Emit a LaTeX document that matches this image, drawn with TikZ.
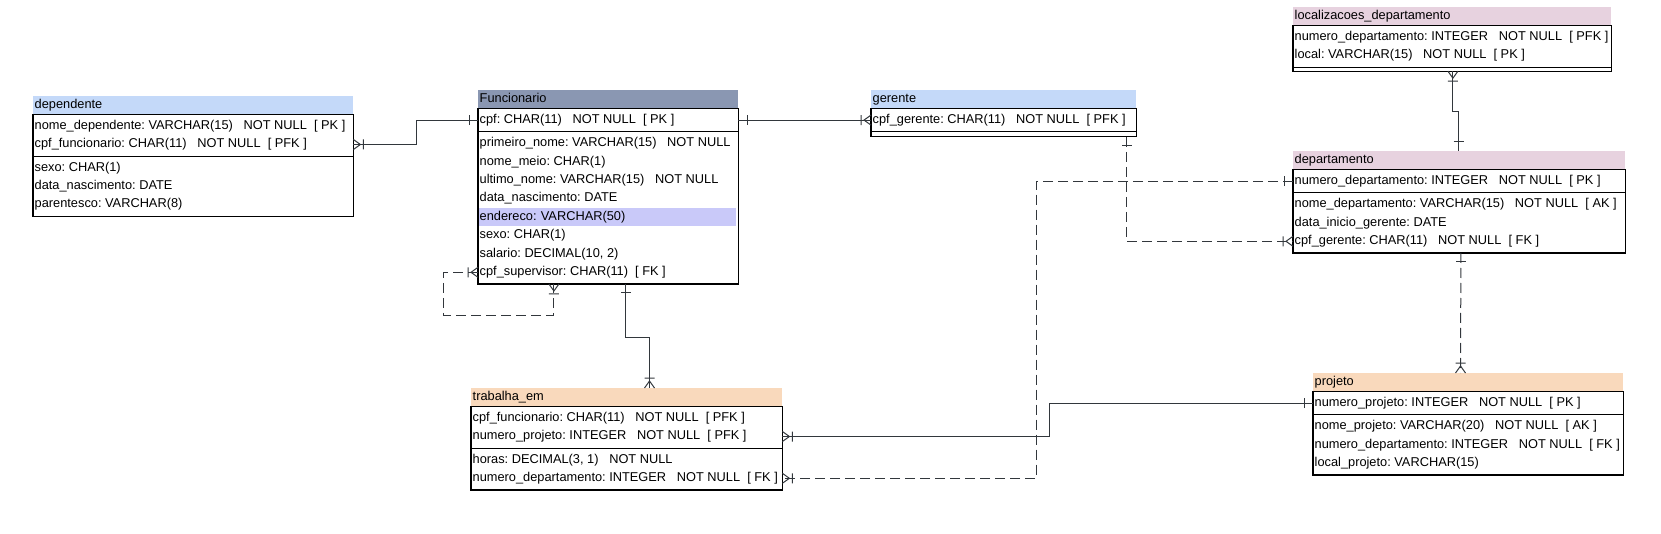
\documentclass[tikz,border=0pt]{standalone}
\usepackage{fontspec}
\setmainfont{Liberation Sans}
\frenchspacing
\definecolor{bluehd}{RGB}{196,217,249}
\definecolor{slatehd}{RGB}{138,151,178}
\definecolor{pinkhd}{RGB}{231,210,223}
\definecolor{peachhd}{RGB}{249,217,188}
\definecolor{hilite}{RGB}{201,201,249}
\definecolor{linkgray}{RGB}{50,55,60}
\tikzset{
  tabhd/.style={fill=#1, anchor=north west, minimum height=18pt, inner xsep=1.5pt, inner ysep=0pt, text height=9.5pt, text depth=3pt, align=left},
  col/.style={anchor=north west, minimum height=18pt, inner xsep=1.5pt, inner ysep=0pt, text height=9.5pt, text depth=3pt},
  tabframe/.style={draw=black, line width=1.2pt},
  rel/.style={draw=linkgray, line width=1pt},
  optrel/.style={rel, dash pattern=on 10pt off 5pt},
  one/.pic={\draw[rel] (9,-5) -- (9,5);},
  many/.pic={\draw[rel] (0,-5) -- (7,0) -- (0,5) (10,-5) -- (10,5);},
}

\begin{document}
\begin{tikzpicture}[x=1pt, y=-1pt, font=\fontsize{12.8}{15}\selectfont]
  \useasboundingbox (0,0) rectangle (1661,534);

  % dependente
  \node[tabhd=bluehd, text width=317pt] (dep) at (33,96) {dependente};
  \node[col] (dep-nome) at ([yshift=-2.5pt]dep.south west) {nome\_dependente: VARCHAR(15)\ \ \ NOT NULL\ \ [ PK ]};
  \node[col] (dep-cpf)  at (dep-nome.south west) {cpf\_funcionario: CHAR(11)\ \ \ NOT NULL\ \ [ PFK ]};
  \node[col] (dep-sexo) at ([yshift=-5pt]dep-cpf.south west) {sexo: CHAR(1)};
  \node[col] (dep-data) at (dep-sexo.south west) {data\_nascimento: DATE};
  \node[col] (dep-par)  at (dep-data.south west) {parentesco: VARCHAR(8)};
  \draw[tabframe] (dep.south west) rectangle ([yshift=-2.5pt]dep-par.south -| dep.east) coordinate (dep-se);
  \draw[tabframe] ([yshift=-2.5pt]dep-cpf.south west) -- ([yshift=-2.5pt]dep-cpf.south -| dep.east);

  % Funcionario
  \node[tabhd=slatehd, text width=257pt] (fun) at (478,90) {Funcionario};
  \node[col] (fun-cpf)  at ([yshift=-2.5pt]fun.south west) {cpf: CHAR(11)\ \ \ NOT NULL\ \ [ PK ]};
  \node[col] (fun-pri)  at ([yshift=-5pt]fun-cpf.south west) {primeiro\_nome: VARCHAR(15)\ \ \ NOT NULL};
  \node[col] (fun-meio) at (fun-pri.south west) {nome\_meio: CHAR(1)};
  \node[col] (fun-ult)  at (fun-meio.south west) {ultimo\_nome: VARCHAR(15)\ \ \ NOT NULL};
  \node[col] (fun-data) at (fun-ult.south west) {data\_nascimento: DATE};
  \node[col, fill=hilite, text width=255pt, align=left] (fun-end) at (fun-data.south west) {endereco: VARCHAR(50)};
  \node[col] (fun-sexo) at (fun-end.south west) {sexo: CHAR(1)};
  \node[col] (fun-sal)  at (fun-sexo.south west) {salario: DECIMAL(10, 2)};
  \node[col] (fun-sup)  at (fun-sal.south west) {cpf\_supervisor: CHAR(11)\ \ [ FK ]};
  \draw[tabframe] (fun.south west) rectangle ([yshift=-2.5pt]fun-sup.south -| fun.east) coordinate (fun-se);
  \draw[tabframe] ([yshift=-2.5pt]fun-cpf.south west) -- ([yshift=-2.5pt]fun-cpf.south -| fun.east);

  % gerente
  \node[tabhd=bluehd, text width=262pt] (ger) at (871,90) {gerente};
  \node[col] (ger-cpf) at ([yshift=-2.5pt]ger.south west) {cpf\_gerente: CHAR(11)\ \ \ NOT NULL\ \ [ PFK ]};
  \draw[tabframe] (ger.south west) rectangle ([yshift=-7.5pt]ger-cpf.south -| ger.east) coordinate (ger-se);
  \draw[tabframe] ([yshift=-2.5pt]ger-cpf.south west) -- ([yshift=-2.5pt]ger-cpf.south -| ger.east);

  % localizacoes_departamento
  \node[tabhd=pinkhd, text width=315pt] (loc) at (1293,7) {localizacoes\_departamento};
  \node[col] (loc-num)   at ([yshift=-2.5pt]loc.south west) {numero\_departamento: INTEGER\ \ \ NOT NULL\ \ [ PFK ]};
  \node[col] (loc-local) at (loc-num.south west) {local: VARCHAR(15)\ \ \ NOT NULL\ \ [ PK ]};
  \draw[tabframe] (loc.south west) rectangle ([yshift=-6.5pt]loc-local.south -| loc.east) coordinate (loc-se);
  \draw[tabframe] ([yshift=-2.5pt]loc-local.south west) -- ([yshift=-2.5pt]loc-local.south -| loc.east);

  % departamento
  \node[tabhd=pinkhd, text width=329pt] (dpt) at (1293,151) {departamento};
  \node[col] (dpt-num)  at ([yshift=-2.5pt]dpt.south west) {numero\_departamento: INTEGER\ \ \ NOT NULL\ \ [ PK ]};
  \node[col] (dpt-nome) at ([yshift=-5pt]dpt-num.south west) {nome\_departamento: VARCHAR(15)\ \ \ NOT NULL\ \ [ AK ]};
  \node[col] (dpt-data) at (dpt-nome.south west) {data\_inicio\_gerente: DATE};
  \node[col] (dpt-cpf)  at (dpt-data.south west) {cpf\_gerente: CHAR(11)\ \ \ NOT NULL\ \ [ FK ]};
  \draw[tabframe] (dpt.south west) rectangle ([yshift=-2.5pt]dpt-cpf.south -| dpt.east) coordinate (dpt-se);
  \draw[tabframe] ([yshift=-2.5pt]dpt-num.south west) -- ([yshift=-2.5pt]dpt-num.south -| dpt.east);

  % trabalha_em
  \node[tabhd=peachhd, text width=308pt] (tra) at (471,388) {trabalha\_em};
  \node[col] (tra-cpf)   at ([yshift=-2.5pt]tra.south west) {cpf\_funcionario: CHAR(11)\ \ \ NOT NULL\ \ [ PFK ]};
  \node[col] (tra-proj)  at (tra-cpf.south west) {numero\_projeto: INTEGER\ \ \ NOT NULL\ \ [ PFK ]};
  \node[col] (tra-horas) at ([yshift=-5pt]tra-proj.south west) {horas: DECIMAL(3, 1)\ \ \ NOT NULL};
  \node[col] (tra-dep)   at (tra-horas.south west) {numero\_departamento: INTEGER\ \ \ NOT NULL\ \ [ FK ]};
  \draw[tabframe] (tra.south west) rectangle ([yshift=-2.5pt]tra-dep.south -| tra.east) coordinate (tra-se);
  \draw[tabframe] ([yshift=-2.5pt]tra-proj.south west) -- ([yshift=-2.5pt]tra-proj.south -| tra.east);

  % projeto
  \node[tabhd=peachhd, text width=307pt] (prj) at (1313,373) {projeto};
  \node[col] (prj-num)   at ([yshift=-2.5pt]prj.south west) {numero\_projeto: INTEGER\ \ \ NOT NULL\ \ [ PK ]};
  \node[col] (prj-nome)  at ([yshift=-5pt]prj-num.south west) {nome\_projeto: VARCHAR(20)\ \ \ NOT NULL\ \ [ AK ]};
  \node[col] (prj-dep)   at (prj-nome.south west) {numero\_departamento: INTEGER\ \ \ NOT NULL\ \ [ FK ]};
  \node[col] (prj-local) at (prj-dep.south west) {local\_projeto: VARCHAR(15)};
  \draw[tabframe] (prj.south west) rectangle ([yshift=-2.5pt]prj-local.south -| prj.east) coordinate (prj-se);
  \draw[tabframe] ([yshift=-2.5pt]prj-num.south west) -- ([yshift=-2.5pt]prj-num.south -| prj.east);

  % relacionamentos
  \draw[rel] (dep-cpf.west -| dep.east) -- ++(63.5,0) |- (fun-cpf.west);
  \pic at (dep-cpf.west -| dep.east) {many};
  \pic[rotate=180] at (fun-cpf.west) {one};

  \draw[rel] (fun-cpf.west -| fun.east) -- (ger-cpf.west);
  \pic at (fun-cpf.west -| fun.east) {one};
  \pic[rotate=180] at (ger-cpf.west) {many};

  \draw[optrel] ([xshift=-9.5pt]ger-se) |- (dpt-cpf.west);
  \pic[rotate=-90] at ([xshift=-9.5pt]ger-se) {one};
  \pic[rotate=180] at (dpt-cpf.west) {many};

  \draw[optrel] (dpt-num.west) -- ++(-256.5,0) |- (tra-dep.west -| tra.east);
  \pic[rotate=180] at (dpt-num.west) {one};
  \pic at (tra-dep.west -| tra.east) {many};

  \draw[rel] (tra-proj.west -| tra.east) -- ++(267.5,0) |- (prj-num.west);
  \pic at (tra-proj.west -| tra.east) {many};
  \pic[rotate=180] at (prj-num.west) {one};

  \draw[rel] ([xshift=-112.5pt]fun-se) -- ++(0,53.5) -| ([xshift=178.5pt]tra.north west);
  \pic[rotate=-90] at ([xshift=-112.5pt]fun-se) {one};
  \pic[rotate=90] at ([xshift=178.5pt]tra.north west) {many};

  \draw[optrel] (fun-sup.west) -- ++(-34.5,0) -- ++(0,43) -| ([xshift=-184.5pt]fun-se);
  \pic[rotate=180] at (fun-sup.west) {many};
  \pic[rotate=-90] at ([xshift=-184.5pt]fun-se) {many};

  \draw[rel] ([xshift=-158.5pt]loc-se) -- ++(0,40.5) -| ([xshift=165.5pt]dpt.north west);
  \pic[rotate=-90] at ([xshift=-158.5pt]loc-se) {many};
  \pic[rotate=90] at ([xshift=165.5pt]dpt.north west) {one};

  \draw[optrel] ([xshift=-164.5pt]dpt-se) -- ([xshift=147.5pt]prj.north west);
  \pic[rotate=-90] at ([xshift=-164.5pt]dpt-se) {one};
  \pic[rotate=90] at ([xshift=147.5pt]prj.north west) {many};
\end{tikzpicture}
\end{document}
